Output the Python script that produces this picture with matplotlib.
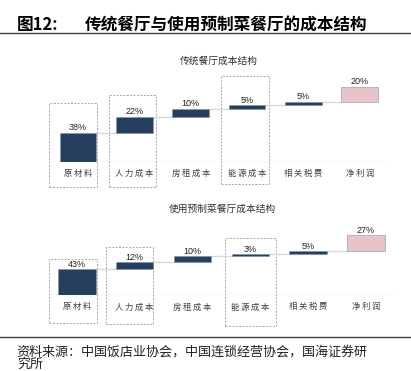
import matplotlib.pyplot as plt
from matplotlib.patches import Rectangle

plt.rcParams['font.family'] = ['Noto Sans CJK SC', 'DejaVu Sans']

categories = ['原材料', '人力成本', '房租成本', '能源成本', '相关税费', '净利润']
traditional = [38, 22, 10, 5, 5, 20]
prepared = [43, 12, 10, 3, 5, 27]

navy = '#243F60'
pink = '#E8C4C8'
grid_gray = '#D9D9D9'


def waterfall(ax, values, title, title_y, label_y, boxes, xlim):
    bottom = 0
    bottoms = []
    for v in values:
        bottoms.append(bottom)
        bottom += v
    colors = [navy] * (len(values) - 1) + [pink]
    x = list(range(len(values)))
    w = 0.65
    ax.bar(x, values, bottom=bottoms, width=w, color=colors, edgecolor='#7F93AD',
           linewidth=0.4, zorder=3)
    # connectors between bars
    for i in range(len(values) - 1):
        lvl = bottoms[i] + values[i]
        ax.plot([i + w / 2, i + 1 - w / 2], [lvl, lvl], color=grid_gray, lw=1, zorder=2)
    ax.axhline(0, color=grid_gray, lw=1, zorder=1)
    for i, v in enumerate(values):
        ax.text(i, bottoms[i] + v + 1.0, f'{v}%', ha='center', va='bottom',
                fontsize=6.5, family='Liberation Sans', color='#222222')
        ax.text(i, label_y, '\u2009'.join(categories[i]), ha='center', va='center',
                fontsize=6, color='#404040', family=['Noto Sans CJK SC', 'DejaVu Sans'])
    for (x0, x1, y0, y1) in boxes:
        ax.add_patch(Rectangle((x0, y0), x1 - x0, y1 - y0, fill=False,
                               edgecolor='#A6A6A6', ls=(0, (2, 1.5)), lw=0.7,
                               clip_on=False))
    ax.set_xlim(*xlim)
    ax.set_ylim(0, 100)
    ax.axis('off')
    ax.text(0.5, title_y, title, transform=ax.transAxes, ha='center', va='center',
            fontsize=7, color='#333333')


fig = plt.figure(figsize=(4.11, 3.71), dpi=100)

fig.text(0.041, 0.933, '图12:', fontsize=12, fontweight='bold', va='center', ha='left')
fig.text(0.207, 0.933, '传统餐厅与使用预制菜餐厅的成本结构', fontsize=12,
         fontweight='semibold', va='center', ha='left')
fig.add_artist(plt.Line2D([0, 1], [0.910, 0.910], color='#404040', lw=1))

ax1 = fig.add_axes([0.1192, 0.5642, 0.8248, 0.2022])
waterfall(ax1, traditional, '传统餐厅成本结构', 1.34, -15.5,
          [(-0.515, 0.337, -33.7, 78.7), (0.545, 1.39, -33.3, 89),
           (2.535, 3.387, -29.7, 114.7)], (-0.515, 5.5))

ax2 = fig.add_axes([0.1192, 0.2049, 0.8418, 0.1609])
waterfall(ax2, prepared, '使用预制菜餐厅成本结构', 1.45, -20,
          [(-0.48, 0.35, -47.4, 60.3), (0.51, 1.31, -48.6, 79.9),
           (2.57, 3.45, -52, 95)], (-0.48, 5.5))

fig.add_artist(plt.Line2D([0, 1], [0.0925, 0.0925], color='#404040', lw=1))
fig.text(0.041, 0.051, '资料来源：中国饭店业协会，中国连锁经营协会，国海证券研', fontsize=9.4,
         va='center', ha='left', color='#222222')
fig.text(0.041, 0.017, '究所', fontsize=9.4, va='center', ha='left', color='#222222')

fig.savefig('out.png', dpi=100)
